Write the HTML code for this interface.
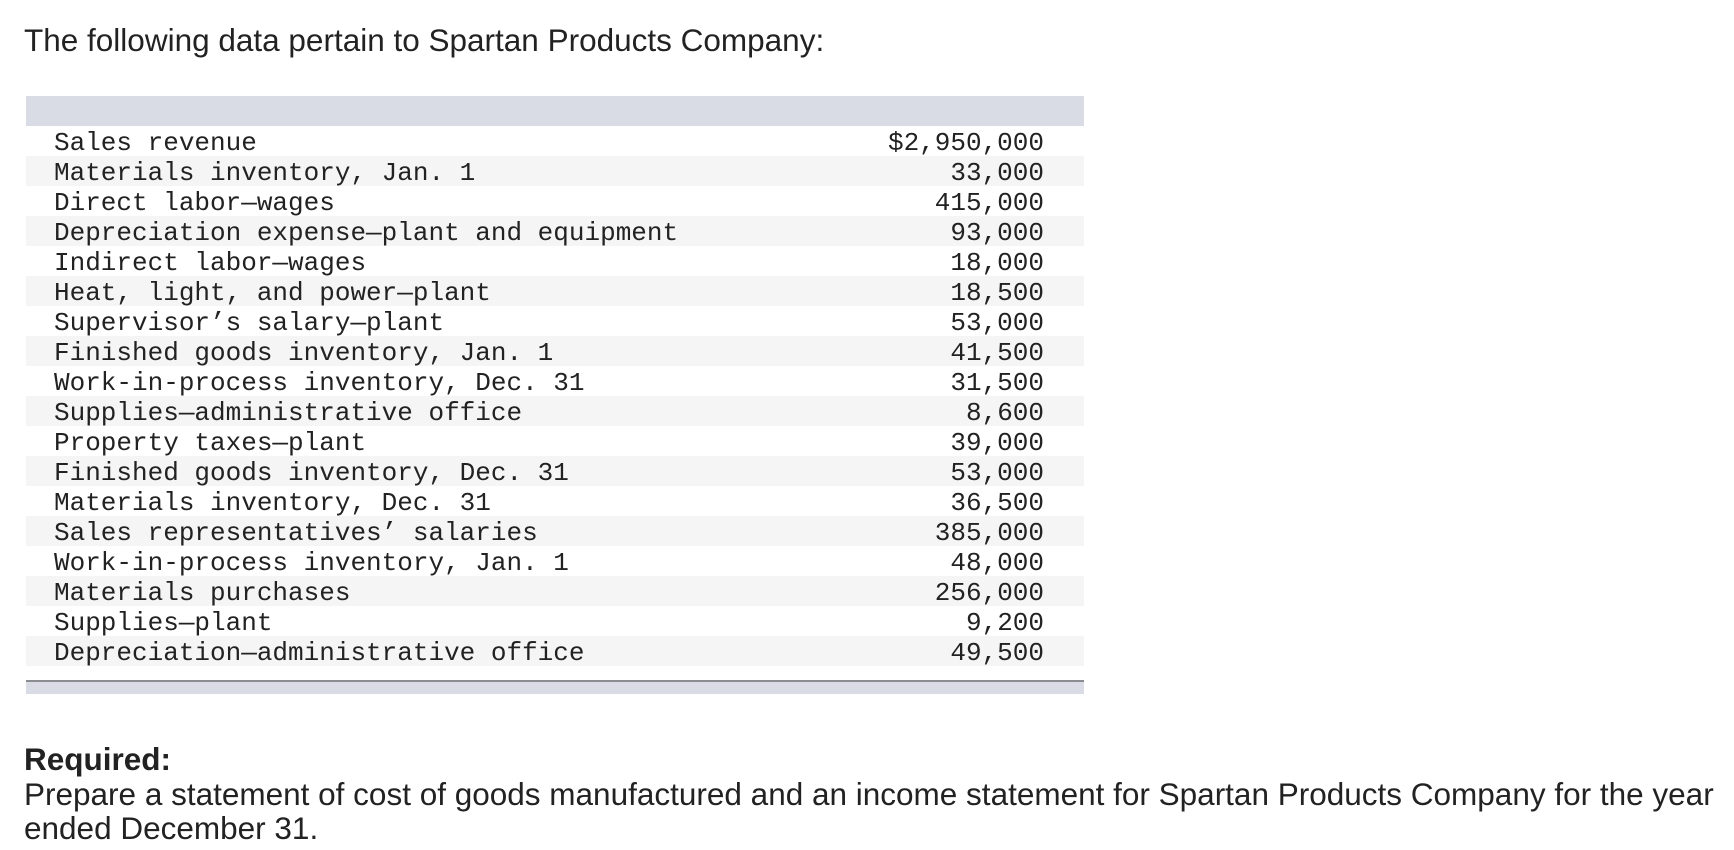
<!DOCTYPE html>
<html><head><meta charset="utf-8"><style>
body{margin:0;width:1734px;height:850px;background:#fff;position:relative;overflow:hidden;font-family:"Liberation Sans",sans-serif;color:#222}
.t{position:absolute;left:24px;font-size:31.5px;line-height:36px;white-space:nowrap}
#hdr{position:absolute;left:26px;top:96px;width:1058px;height:30px;background:#d9dce4}
.row{position:absolute;left:26px;width:1058px;height:30px;font-family:"Liberation Mono",monospace;font-size:26px;line-height:34px;color:#222}
.row .l{position:absolute;left:28px}
.row .v{position:absolute;right:40px}
#line{position:absolute;left:26px;top:680px;width:1058px;height:2px;background:#8a8c90}
#foot{position:absolute;left:26px;top:682px;width:1058px;height:12px;background:#d9dce4}
</style></head><body>
<div class="t" style="top:22px">The following data pertain to Spartan Products Company:</div>
<div id="hdr"></div>
<div id="rows"></div>
<div id="line"></div>
<div id="foot"></div>
<div class="t" style="top:741px;font-weight:bold">Required:</div>
<div class="t" style="top:776px">Prepare a statement of cost of goods manufactured and an income statement for Spartan Products Company for the year</div>
<div class="t" style="top:810px">ended December 31.</div>
<script>
const labels=["Sales revenue","Materials inventory, Jan. 1","Direct labor—wages","Depreciation expense—plant and equipment","Indirect labor—wages","Heat, light, and power—plant","Supervisor’s salary—plant","Finished goods inventory, Jan. 1","Work-in-process inventory, Dec. 31","Supplies—administrative office","Property taxes—plant","Finished goods inventory, Dec. 31","Materials inventory, Dec. 31","Sales representatives’ salaries","Work-in-process inventory, Jan. 1","Materials purchases","Supplies—plant","Depreciation—administrative office"];
const values=["$2,950,000","33,000","415,000","93,000","18,000","18,500","53,000","41,500","31,500","8,600","39,000","53,000","36,500","385,000","48,000","256,000","9,200","49,500"];
const c=document.getElementById('rows');
labels.forEach((lb,i)=>{
const r=document.createElement('div');r.className='row';


r.style.top=(126+i*30)+'px';r.style.background=i%2?'#f5f5f5':'#fff';
const a=document.createElement('span');a.className='l';a.textContent=lb;


const b=document.createElement('span');b.className='v';b.textContent=values[i];


r.appendChild(a);r.appendChild(b);c.appendChild(r);});
</script>
</body></html>
